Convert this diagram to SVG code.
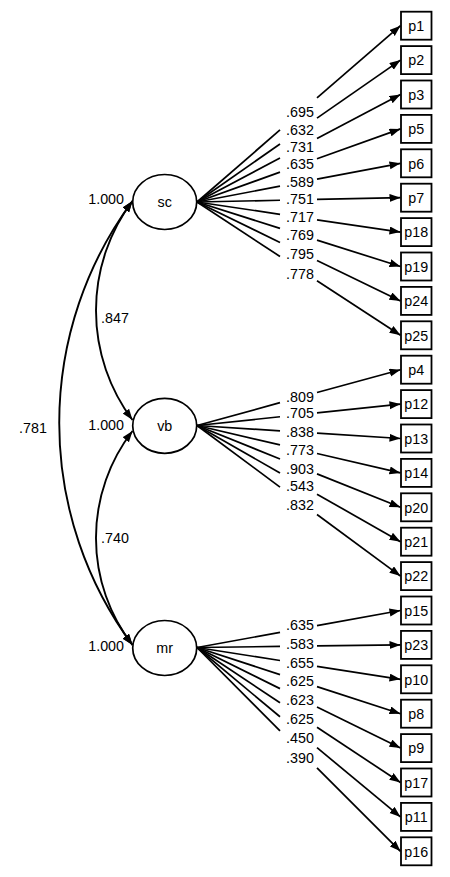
<svg xmlns="http://www.w3.org/2000/svg" width="450" height="877" viewBox="0 0 450 877">
<defs>
<marker id="arr" markerUnits="userSpaceOnUse" markerWidth="12" markerHeight="9" refX="11" refY="4" orient="auto-start-reverse" viewBox="0 0 12 9">
<path d="M0,0 L11,4 L0,8 z" fill="#000"/>
</marker>
<style>
text{font-family:"Liberation Sans",Arial,sans-serif;font-size:14.3px;fill:#000}
.m{text-anchor:middle}
.e{text-anchor:end}
.box{fill:#fff;stroke:#000;stroke-width:1.8}
.lat{fill:#fff;stroke:#000;stroke-width:1.7}
.ln{stroke:#000;stroke-width:1.7;fill:none}
.ar{stroke:#000;stroke-width:1.7;fill:none;marker-end:url(#arr)}
.cv{stroke:#000;stroke-width:1.9;fill:none;marker-start:url(#arr);marker-end:url(#arr)}
</style>
</defs>
<rect width="450" height="877" fill="#fff"/>
<g id="connectors">
<path class="cv" d="M132.5,201 A182.5,182.5 0 0 0 132.5,420"/>
<path class="cv" d="M132.5,431 A175,175 0 0 0 132.5,645"/>
<path class="cv" d="M132.5,201 A373,373 0 0 0 132.5,645"/>
<path class="ln" d="M197,202 L280,129.92"/><path class="ar" d="M317,97.78 L400.5,25.7"/>
<path class="ln" d="M197,202 L280,143.98"/><path class="ar" d="M317,118.12 L400.5,60.1"/>
<path class="ln" d="M197,202 L280,158.05"/><path class="ar" d="M317,138.45 L400.5,94.5"/>
<path class="ln" d="M197,202 L280,172.11"/><path class="ar" d="M317,158.79 L400.5,128.9"/>
<path class="ln" d="M197,202 L280,186.18"/><path class="ar" d="M317,179.12 L400.5,163.3"/>
<path class="ln" d="M197,202 L280,200.24"/><path class="ar" d="M317,199.46 L400.5,197.7"/>
<path class="ln" d="M197,202 L280,214.31"/><path class="ar" d="M317,219.79 L400.5,232.1"/>
<path class="ln" d="M197,202 L280,228.37"/><path class="ar" d="M317,240.13 L400.5,266.5"/>
<path class="ln" d="M197,202 L280,242.44"/><path class="ar" d="M317,260.46 L400.5,300.9"/>
<path class="ln" d="M197,202 L280,256.5"/><path class="ar" d="M317,280.8 L400.5,335.3"/>
<path class="ln" d="M197,425.5 L280,402.68"/><path class="ar" d="M317,392.51 L400.5,369.7"/>
<path class="ln" d="M197,425.5 L280,416.75"/><path class="ar" d="M317,412.85 L400.5,404.1"/>
<path class="ln" d="M197,425.5 L280,430.82"/><path class="ar" d="M317,433.18 L400.5,438.5"/>
<path class="ln" d="M197,425.5 L280,444.88"/><path class="ar" d="M317,453.52 L400.5,472.9"/>
<path class="ln" d="M197,425.5 L280,458.95"/><path class="ar" d="M317,473.85 L400.5,507.3"/>
<path class="ln" d="M197,425.5 L280,473.01"/><path class="ar" d="M317,494.19 L400.5,541.7"/>
<path class="ln" d="M197,425.5 L280,487.08"/><path class="ar" d="M317,514.52 L400.5,576.1"/>
<path class="ln" d="M197,647.5 L280,632.37"/><path class="ar" d="M317,625.63 L400.5,610.5"/>
<path class="ln" d="M197,647.5 L280,646.44"/><path class="ar" d="M317,645.96 L400.5,644.9"/>
<path class="ln" d="M197,647.5 L280,660.5"/><path class="ar" d="M317,666.3 L400.5,679.3"/>
<path class="ln" d="M197,647.5 L280,674.57"/><path class="ar" d="M317,686.63 L400.5,713.7"/>
<path class="ln" d="M197,647.5 L280,688.63"/><path class="ar" d="M317,706.97 L400.5,748.1"/>
<path class="ln" d="M197,647.5 L280,702.7"/><path class="ar" d="M317,727.3 L400.5,782.5"/>
<path class="ln" d="M197,647.5 L280,716.76"/><path class="ar" d="M317,747.64 L400.5,816.9"/>
<path class="ln" d="M197,647.5 L280,730.83"/><path class="ar" d="M317,767.97 L400.5,851.3"/>
<text class="m" x="300" y="116.5">.695</text>
<text class="m" x="300" y="134.5">.632</text>
<text class="m" x="300" y="151.7">.731</text>
<text class="m" x="300" y="169.3">.635</text>
<text class="m" x="300" y="186.7">.589</text>
<text class="m" x="300" y="204">.751</text>
<text class="m" x="300" y="221.7">.717</text>
<text class="m" x="300" y="240">.769</text>
<text class="m" x="300" y="259.3">.795</text>
<text class="m" x="300" y="279.3">.778</text>
<text class="m" x="300" y="401.7">.809</text>
<text class="m" x="300" y="418.3">.705</text>
<text class="m" x="300" y="437.3">.838</text>
<text class="m" x="300" y="455">.773</text>
<text class="m" x="300" y="474">.903</text>
<text class="m" x="300" y="491">.543</text>
<text class="m" x="300" y="510">.832</text>
<text class="m" x="300" y="630">.635</text>
<text class="m" x="300" y="649.3">.583</text>
<text class="m" x="300" y="667.7">.655</text>
<text class="m" x="300" y="686">.625</text>
<text class="m" x="300" y="705">.623</text>
<text class="m" x="300" y="724">.625</text>
<text class="m" x="300" y="742.7">.450</text>
<text class="m" x="300" y="763.3">.390</text>
<text class="m" x="115" y="323">.847</text>
<text class="m" x="115" y="543">.740</text>
<text class="m" x="33" y="432.7">.781</text>
</g>
<g id="sc"><ellipse class="lat" cx="164.7" cy="202" rx="32" ry="27.5"/><text class="m" x="164.7" y="206.5">sc</text><text class="e" x="124" y="204.3">1.000</text></g>
<g id="vb"><ellipse class="lat" cx="164.7" cy="425.8" rx="32" ry="27.5"/><text class="m" x="164.7" y="431">vb</text><text class="e" x="124" y="430">1.000</text></g>
<g id="mr"><ellipse class="lat" cx="164.7" cy="648" rx="32" ry="27.5"/><text class="m" x="164.7" y="652.5">mr</text><text class="e" x="124" y="651">1.000</text></g>
<g id="p1"><rect class="box" x="401" y="11.7" width="30.5" height="28"/><text class="m" x="416.2" y="30.9">p1</text></g>
<g id="p2"><rect class="box" x="401" y="46.1" width="30.5" height="28"/><text class="m" x="416.2" y="65.3">p2</text></g>
<g id="p3"><rect class="box" x="401" y="80.5" width="30.5" height="28"/><text class="m" x="416.2" y="99.7">p3</text></g>
<g id="p5"><rect class="box" x="401" y="114.9" width="30.5" height="28"/><text class="m" x="416.2" y="134.1">p5</text></g>
<g id="p6"><rect class="box" x="401" y="149.3" width="30.5" height="28"/><text class="m" x="416.2" y="168.5">p6</text></g>
<g id="p7"><rect class="box" x="401" y="183.7" width="30.5" height="28"/><text class="m" x="416.2" y="202.9">p7</text></g>
<g id="p18"><rect class="box" x="401" y="218.1" width="30.5" height="28"/><text class="m" x="416.2" y="237.3">p18</text></g>
<g id="p19"><rect class="box" x="401" y="252.5" width="30.5" height="28"/><text class="m" x="416.2" y="271.7">p19</text></g>
<g id="p24"><rect class="box" x="401" y="286.9" width="30.5" height="28"/><text class="m" x="416.2" y="306.1">p24</text></g>
<g id="p25"><rect class="box" x="401" y="321.3" width="30.5" height="28"/><text class="m" x="416.2" y="340.5">p25</text></g>
<g id="p4"><rect class="box" x="401" y="355.7" width="30.5" height="28"/><text class="m" x="416.2" y="374.9">p4</text></g>
<g id="p12"><rect class="box" x="401" y="390.1" width="30.5" height="28"/><text class="m" x="416.2" y="409.3">p12</text></g>
<g id="p13"><rect class="box" x="401" y="424.5" width="30.5" height="28"/><text class="m" x="416.2" y="443.7">p13</text></g>
<g id="p14"><rect class="box" x="401" y="458.9" width="30.5" height="28"/><text class="m" x="416.2" y="478.1">p14</text></g>
<g id="p20"><rect class="box" x="401" y="493.3" width="30.5" height="28"/><text class="m" x="416.2" y="512.5">p20</text></g>
<g id="p21"><rect class="box" x="401" y="527.7" width="30.5" height="28"/><text class="m" x="416.2" y="546.9">p21</text></g>
<g id="p22"><rect class="box" x="401" y="562.1" width="30.5" height="28"/><text class="m" x="416.2" y="581.3">p22</text></g>
<g id="p15"><rect class="box" x="401" y="596.5" width="30.5" height="28"/><text class="m" x="416.2" y="615.7">p15</text></g>
<g id="p23"><rect class="box" x="401" y="630.9" width="30.5" height="28"/><text class="m" x="416.2" y="650.1">p23</text></g>
<g id="p10"><rect class="box" x="401" y="665.3" width="30.5" height="28"/><text class="m" x="416.2" y="684.5">p10</text></g>
<g id="p8"><rect class="box" x="401" y="699.7" width="30.5" height="28"/><text class="m" x="416.2" y="718.9">p8</text></g>
<g id="p9"><rect class="box" x="401" y="734.1" width="30.5" height="28"/><text class="m" x="416.2" y="753.3">p9</text></g>
<g id="p17"><rect class="box" x="401" y="768.5" width="30.5" height="28"/><text class="m" x="416.2" y="787.7">p17</text></g>
<g id="p11"><rect class="box" x="401" y="802.9" width="30.5" height="28"/><text class="m" x="416.2" y="822.1">p11</text></g>
<g id="p16"><rect class="box" x="401" y="837.3" width="30.5" height="28"/><text class="m" x="416.2" y="856.5">p16</text></g>
</svg>
